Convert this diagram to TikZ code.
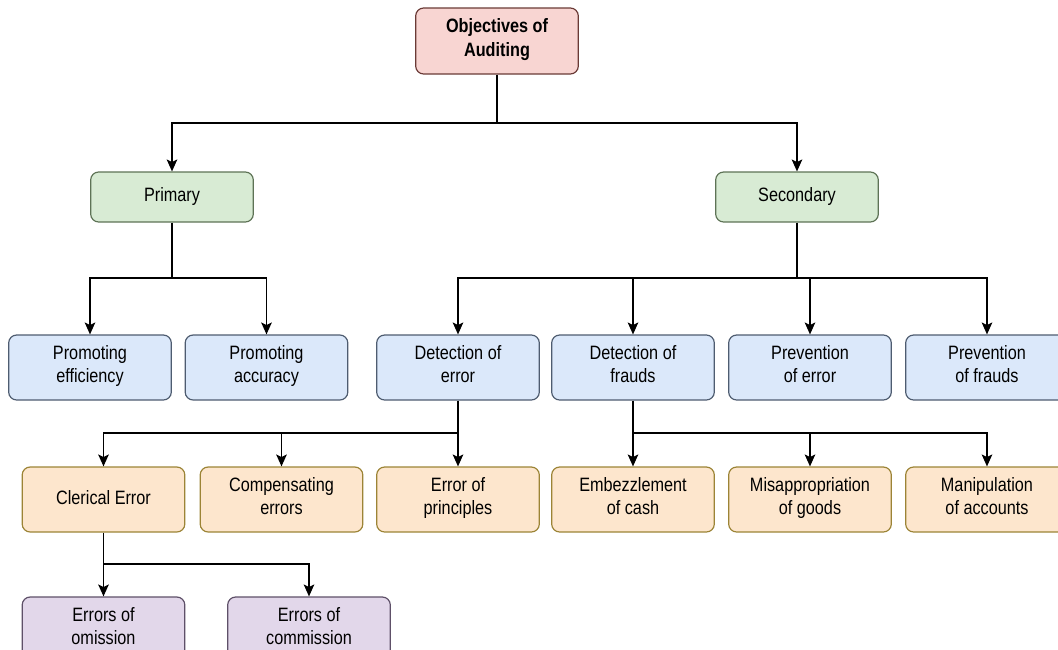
\documentclass[tikz,border=0pt]{standalone}
\usepackage{fontspec}
\setmainfont[FakeStretch=0.84]{Liberation Sans}
\usepackage{tikz}
\usetikzlibrary{arrows.meta}
\definecolor{rootfill}{HTML}{F8D5D2}
\definecolor{rootline}{HTML}{6A3A36}
\definecolor{typefill}{HTML}{D8EBD4}
\definecolor{typeline}{HTML}{5E7356}
\definecolor{objfill}{HTML}{DBE8FA}
\definecolor{objline}{HTML}{4E5C70}
\definecolor{errfill}{HTML}{FDE6CD}
\definecolor{errline}{HTML}{9C8436}
\definecolor{subfill}{HTML}{E2D7EA}
\definecolor{subline}{HTML}{5E5068}

\begin{document}
\begin{tikzpicture}[x=0.75pt,y=-0.75pt,
		every node/.style={font=\fontsize{14.5pt}{17.5pt}\selectfont,align=center},
		box/.style={rectangle,rounded corners=6pt,draw,line width=0.9pt,minimum width=122pt,minimum height=48.75pt,inner sep=2pt,
			execute at begin node=\strut,execute at end node=\strut},
		rootnode/.style={box,fill=rootfill,draw=rootline,minimum height=49.5pt,font=\fontsize{14.5pt}{17.5pt}\selectfont\bfseries},
		typenode/.style={box,fill=typefill,draw=typeline,minimum height=37.5pt},
		objnode/.style={box,fill=objfill,draw=objline},
		errnode/.style={box,fill=errfill,draw=errline},
		subnode/.style={box,fill=subfill,draw=subline},
		trunk/.style={line width=1pt},
		link/.style={trunk,-{Stealth[length=9pt,width=8pt,inset=2pt]}}]
		\useasboundingbox (0,0) rectangle (1058,650);
		% top
		\node [rootnode] (root) at (497,41) {Objectives of\\Auditing};
		\node [typenode] (prim) at (172,197) {Primary};
		\node [typenode] (sec) at (797,197) {Secondary};
		% second level
		\node [objnode] (effi) at (90,367.5) {Promoting\\efficiency};
		\node [objnode] (accu) at (266.5,367.5) {Promoting\\accuracy};
		\node [objnode] (deterr) at (458,367.5) {Detection of\\error};
		\node [objnode] (detfr) at (633,367.5) {Detection of\\frauds};
		\node [objnode] (preverr) at (810,367.5) {Prevention\\of error};
		\node [objnode] (prevfr) at (987,367.5) {Prevention\\of frauds};
		% third level
		\node [errnode] (cler) at (103.5,499.5) {Clerical Error};
		\node [errnode] (comp) at (281.5,499.5) {Compensating\\errors};
		\node [errnode] (princ) at (458,499.5) {Error of\\principles};
		\node [errnode] (embz) at (633,499.5) {Embezzlement\\of cash};
		\node [errnode] (misap) at (810,499.5) {Misappropriation\\of goods};
		\node [errnode] (manip) at (987,499.5) {Manipulation\\of accounts};
		% fourth level
		\node [subnode] (omis) at (103.5,629.5) {Errors of\\omission};
		\node [subnode] (comm) at (309,629.5) {Errors of\\commission};
		% junctions
		\coordinate (j0) at (497,123);
		\coordinate (jprim) at (172,278);
		\coordinate (jsec) at (797,278);
		\coordinate (jerr) at (458,433);
		\coordinate (jfr) at (633,433);
		\coordinate (jcler) at (103.5,564);
		% connectors
		\draw [trunk] (root) -- (j0);
		\draw [link] (j0) -| (prim);
		\draw [link] (j0) -| (sec);
		\draw [trunk] (prim) -- (jprim);
		\draw [link] (jprim) -| (effi);
		\draw [link] (jprim) -| (accu);
		\draw [trunk] (sec) -- (jsec);
		\foreach \t in {deterr,detfr,preverr,prevfr}
			\draw [link] (jsec) -| (\t);
		\draw [trunk] (deterr) -- (jerr);
		\foreach \t in {cler,comp,princ}
			\draw [link] (jerr) -| (\t);
		\draw [trunk] (detfr) -- (jfr);
		\foreach \t in {embz,misap,manip}
			\draw [link] (jfr) -| (\t);
		\draw [trunk] (cler) -- (jcler);
		\draw [link] (jcler) -| (omis);
		\draw [link] (jcler) -| (comm);
\end{tikzpicture}
\end{document}
